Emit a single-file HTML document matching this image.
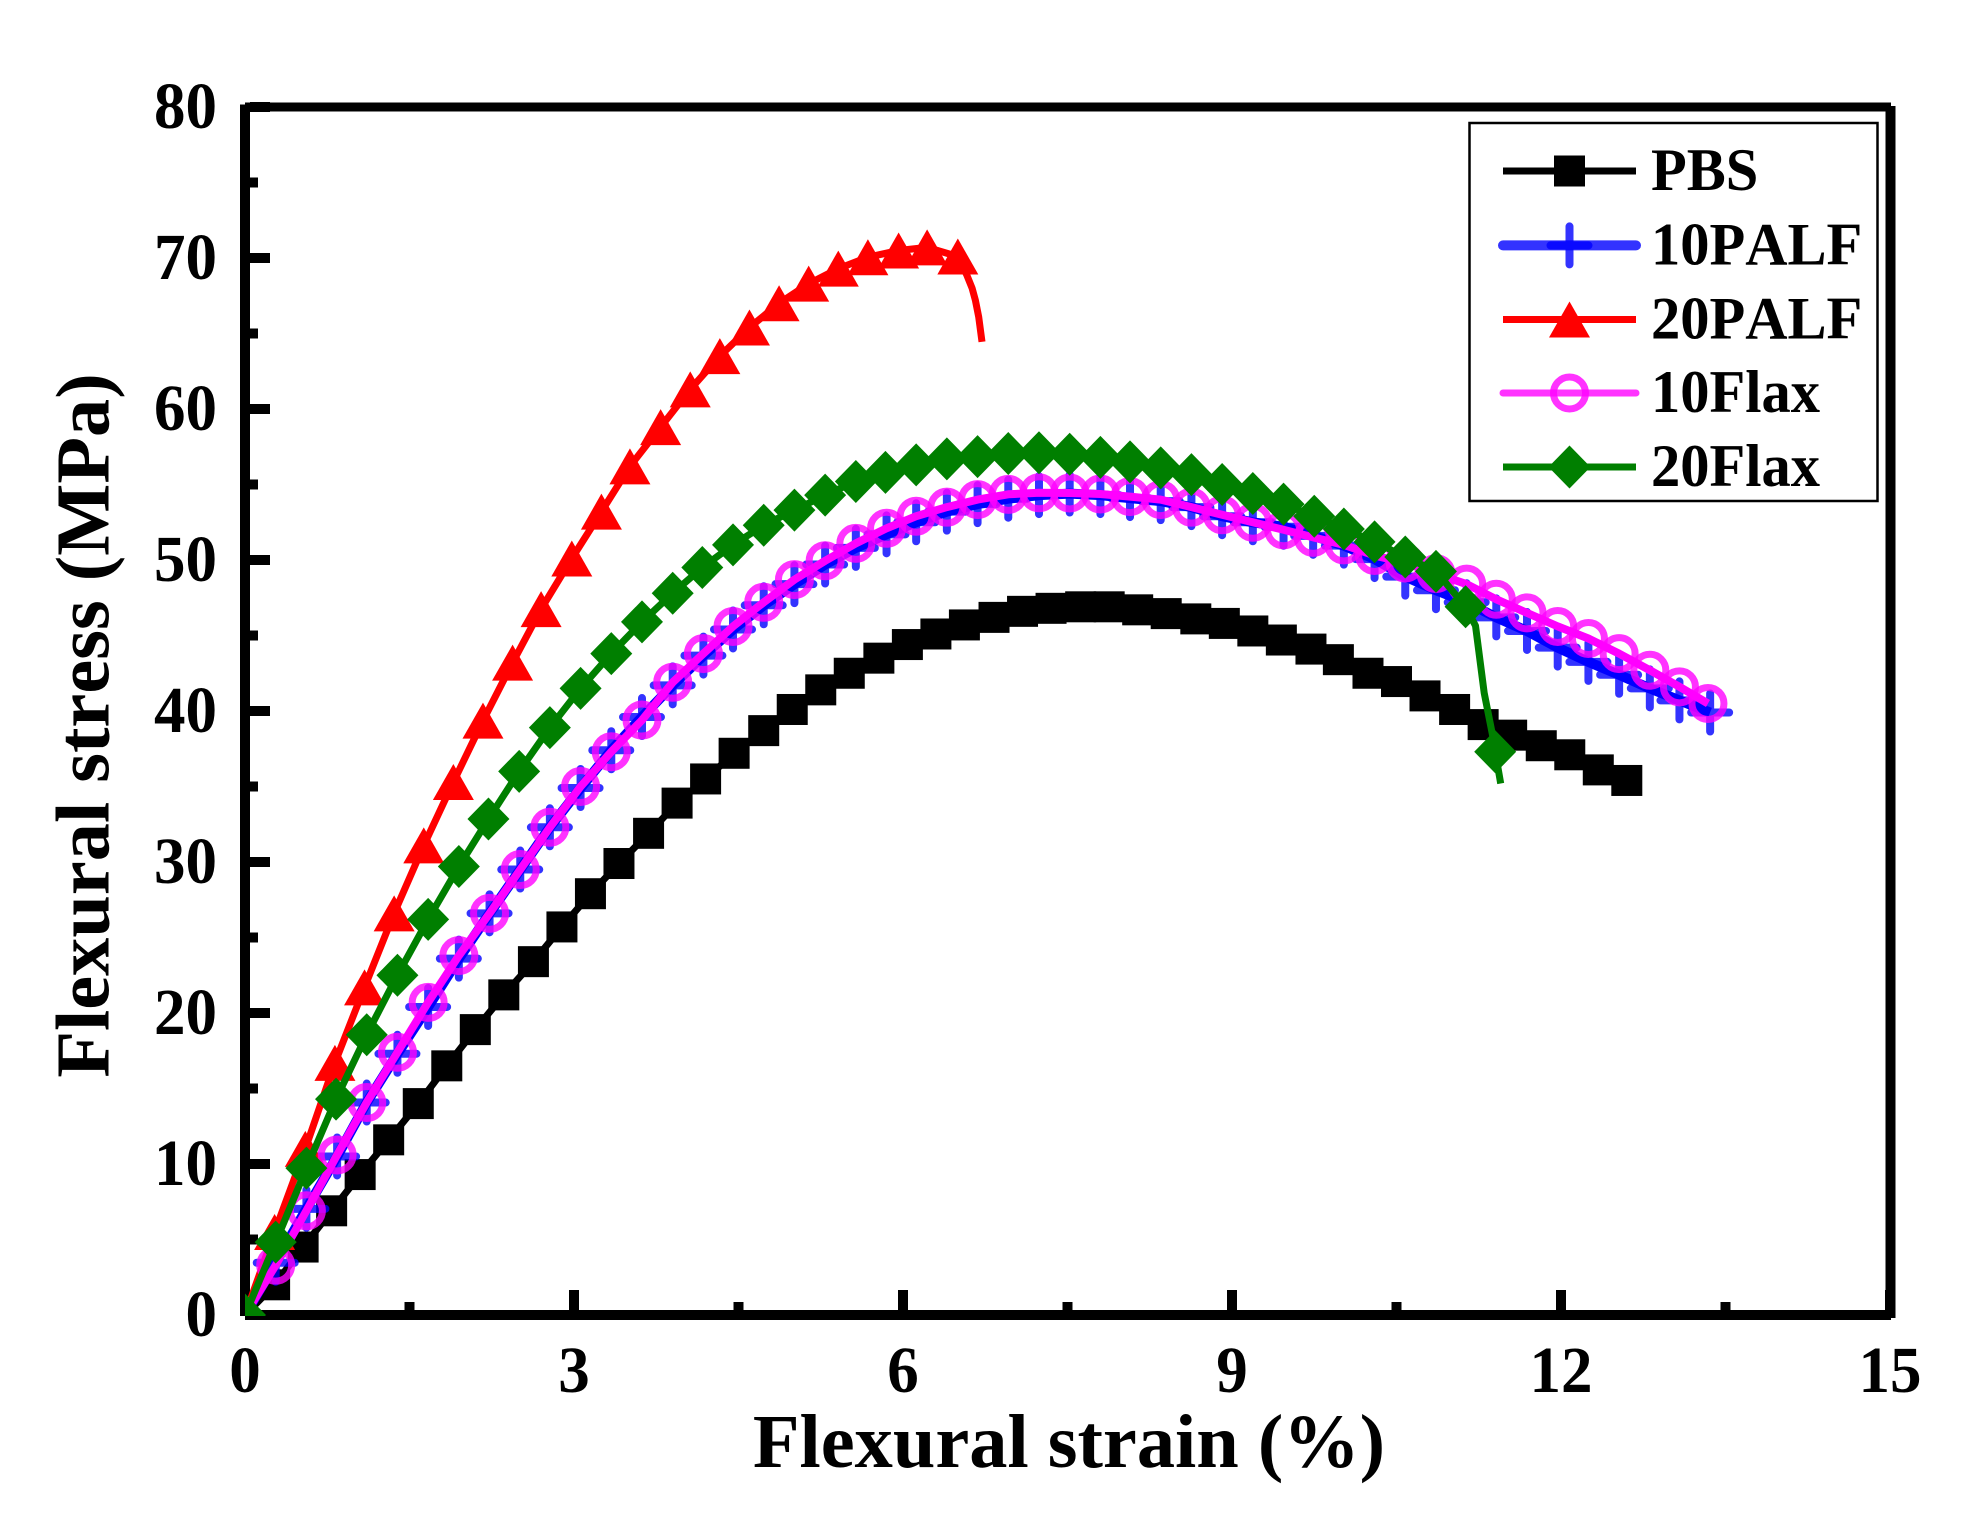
<!DOCTYPE html>
<html lang="en">
<head>
<meta charset="utf-8">
<title>Flexural stress vs strain</title>
<style>
html,body{margin:0;padding:0;background:#fff;width:1986px;height:1522px;overflow:hidden}
svg{display:block;font-family:"Liberation Serif",serif;font-weight:bold;fill:#000;font-kerning:none}
</style>
</head>
<body>
<svg id="chart" xmlns="http://www.w3.org/2000/svg" width="1986" height="1522" viewBox="0 0 1986 1522">
  <defs><clipPath id="plot-clip"><rect x="245" y="103" width="1650" height="1213"/></clipPath></defs>
  <g id="axes-layer" shape-rendering="crispEdges"></g>
  <g id="series-layer" clip-path="url(#plot-clip)"></g>
  <g id="tick-label-layer" font-size="63"></g>
  <text x="1069" y="1467" font-size="76.4" text-anchor="middle">Flexural strain (%)</text>
  <text transform="translate(108.5 725.5) rotate(-90)" font-size="76.4" text-anchor="middle">Flexural stress (MPa)</text>
  <g>
    <rect x="1469.5" y="123" width="408" height="378" fill="#fff" stroke="#000" stroke-width="2.5"/>
    <g id="legend-layer"></g>
  </g>
</svg>
<script>
// ---- axis tick data ----
const xMajorTicks = [0, 3, 6, 9, 12, 15];
const xMinorTicks = [1.5, 4.5, 7.5, 10.5, 13.5];
const yMajorTicks = [0, 10, 20, 30, 40, 50, 60, 70, 80];
const yMinorTicks = [5, 15, 25, 35, 45, 55, 65, 75];

// ---- PBS ----
const pbsStrain = [0,0.27,0.53,0.79,1.05,1.31,1.58,1.84,2.1,2.36,2.63,2.89,3.15,3.41,3.68,3.94,4.2,4.46,4.73,4.99,5.25,5.51,5.78,6.04,6.3,6.56,6.83,7.09,7.35,7.62,7.88,8.14,8.4,8.67,8.93,9.19,9.45,9.72,9.97,10.24,10.5,10.76,11.03,11.29,11.55,11.82,12.08,12.34,12.6];
const pbsStress = [0,2,4.5,6.9,9.3,11.6,14,16.5,18.9,21.2,23.4,25.7,27.9,29.9,31.9,33.9,35.5,37.2,38.7,40.1,41.4,42.5,43.5,44.4,45.1,45.7,46.2,46.6,46.8,46.9,46.9,46.7,46.45,46.1,45.8,45.3,44.7,44.1,43.4,42.5,41.95,41,40.1,39.1,38.4,37.7,37.1,36.1,35.4];
const pbsUnmarked = [0];

// ---- 10PALF ----
const palf10Strain = [0,0.28,0.56,0.84,1.11,1.39,1.67,1.95,2.23,2.51,2.78,3.06,3.34,3.62,3.9,4.18,4.45,4.73,5.01,5.29,5.57,5.85,6.12,6.4,6.68,6.96,7.24,7.52,7.8,8.07,8.35,8.63,8.91,9.19,9.47,9.74,10.02,10.3,10.58,10.86,11.14,11.41,11.69,11.97,12.25,12.53,12.81,13.08,13.36];
const palf10Stress = [0,3.46,7.03,10.5,14.07,17.3,20.4,23.6,26.6,29.5,32.3,34.9,37.4,39.6,41.7,43.67,45.4,47,48.4,49.7,50.8,51.7,52.5,53.2,53.7,54.06,54.3,54.4,54.3,54.1,53.9,53.5,52.9,52.5,52.2,51.6,50.95,50.06,48.9,48,47.2,46.2,45.3,44.2,43.25,42.4,41.5,40.7,39.9];
const palf10Unmarked = [0];

// ---- 20PALF (final points form the unmarked tail) ----
const palf20Strain = [0,0.27,0.55,0.82,1.09,1.36,1.63,1.9,2.17,2.44,2.7,2.98,3.25,3.51,3.79,4.06,4.33,4.6,4.87,5.14,5.41,5.68,5.96,6.22,6.5,6.58,6.63,6.66,6.69,6.72];
const palf20Stress = [0,5.5,11,16.7,21.7,26.6,31.1,35.3,39.36,43.2,46.75,50.1,53.2,56.2,58.8,61.3,63.5,65.4,67,68.3,69.3,70.05,70.5,70.7,70.1,68.9,68,67.2,66.1,64.45];
const palf20Unmarked = [25, 26, 27, 28, 29];

// ---- 10Flax ----
const flax10Strain = [0,0.28,0.56,0.84,1.11,1.39,1.67,1.95,2.23,2.51,2.78,3.06,3.34,3.62,3.9,4.18,4.45,4.73,5.01,5.29,5.57,5.85,6.12,6.4,6.68,6.96,7.24,7.52,7.8,8.07,8.35,8.63,8.91,9.19,9.47,9.74,10.02,10.3,10.58,10.86,11.14,11.41,11.69,11.97,12.25,12.53,12.81,13.08,13.34];
const flax10Stress = [0,3.3,6.9,10.6,14.07,17.4,20.7,23.8,26.6,29.5,32.3,35,37.3,39.4,41.9,43.8,45.6,47.2,48.7,49.95,51.1,52.1,52.9,53.5,54,54.35,54.45,54.44,54.37,54.2,54,53.5,53,52.5,52,51.5,51,50.3,49.8,49.1,48.4,47.4,46.5,45.6,44.8,43.8,42.7,41.6,40.5];
const flax10Unmarked = [0];

// ---- 20Flax (unmarked points shape the final drop and tail) ----
const flax20Strain = [0,0.28,0.56,0.83,1.11,1.39,1.67,1.95,2.22,2.5,2.78,3.06,3.34,3.62,3.9,4.17,4.45,4.73,5.01,5.29,5.57,5.84,6.12,6.4,6.68,6.96,7.24,7.52,7.8,8.07,8.35,8.63,8.91,9.19,9.47,9.75,10.02,10.3,10.58,10.86,11.13,11.22,11.3,11.38,11.4,11.45];
const flax20Stress = [0,4.83,9.73,14.3,18.56,22.5,26.2,29.7,32.85,36,38.9,41.5,43.8,45.9,47.8,49.5,51,52.3,53.3,54.3,55.2,55.8,56.3,56.7,56.85,57.05,57.1,57,56.8,56.5,56.1,55.65,55,54.4,53.7,52.9,52.05,51.2,50.2,49.25,46.9,45.65,41.2,38.25,37.3,35.2];
const flax20Unmarked = [41, 42, 43, 45];

// ---- legend ----
const legendNames = ['PBS', '10PALF', '20PALF', '10Flax', '20Flax'];

const SVGNS = 'http://www.w3.org/2000/svg';
const xScale = v => 245 + v * (1645 / 15);
const yScale = v => 1315 - v * 15.1;

function mk(tag, attrs, parent) {
  const el = document.createElementNS(SVGNS, tag);
  for (const k in attrs) el.setAttribute(k, attrs[k]);
  parent.appendChild(el);
  return el;
}

function drawSquare(parent, cx, cy, color) {
  const el = mk('rect', {x: cx - 15.5, y: cy - 15.5, width: 31, height: 31, fill: color}, parent);
  
  
}
function drawPlus(parent, cx, cy, color) {
  const el = mk('path', {d: `M${cx} ${cy - 19}V${cy + 19}M${cx - 19} ${cy}H${cx + 19}`, fill: 'none', stroke: color, 'stroke-width': 8, 'stroke-linecap': 'round', 'stroke-opacity': 0.8}, parent);
  
  
}
function drawTriangle(parent, cx, cy, color) {
  const el = mk('polygon', {points: `${cx},${cy - 18} ${cx + 20.5},${cy + 18} ${cx - 20.5},${cy + 18}`, fill: color}, parent);
  
  
}
function drawRing(parent, cx, cy, color) {
  const el = mk('circle', {cx: cx, cy: cy, r: 16, fill: 'none', stroke: color, 'stroke-width': 7, 'stroke-opacity': 0.8}, parent);
  
  
}
function drawDiamond(parent, cx, cy, color) {
  const el = mk('polygon', {points: `${cx},${cy - 21.5} ${cx + 21},${cy} ${cx},${cy + 21.5} ${cx - 21},${cy}`, fill: color}, parent);
  
  
}

function drawSeries(name, xs, ys, color, width, marker, markerColor, skip) {
  const layer = document.getElementById('series-layer');
  const g = mk('g', {}, layer);
  
  
  const pts = xs.map((x, i) => xScale(x).toFixed(1) + ',' + yScale(ys[i]).toFixed(1)).join(' ');
  const line = mk('polyline', {points: pts, fill: 'none', stroke: color, 'stroke-width': width, 'stroke-linejoin': 'round'}, g);
  
  
  xs.forEach((x, i) => {
    if (skip && skip.includes(i)) return;
    marker(g, xScale(x), yScale(ys[i]), markerColor);
  });
}

drawSeries('pbs', pbsStrain, pbsStress, '#000', 7, drawSquare, '#000', pbsUnmarked);
drawSeries('10palf', palf10Strain, palf10Stress, '#0000ff', 10, drawPlus, '#0000ff', palf10Unmarked);
drawSeries('20palf', palf20Strain, palf20Stress, '#ff0000', 7, drawTriangle, '#ff0000', palf20Unmarked);
drawSeries('10flax', flax10Strain, flax10Stress, '#ff00ff', 8, drawRing, '#ff00ff', flax10Unmarked);
drawSeries('20flax', flax20Strain, flax20Stress, '#007f00', 7, drawDiamond, '#007f00', flax20Unmarked);

// axes
const axes = document.getElementById('axes-layer');
const spines = [
  ['spine-left', 240, 104.5, 10, 1211.5],
  ['spine-top', 245, 102.5, 1646, 9],
  ['spine-right', 1885.5, 106, 10, 1212],
  ['spine-bottom', 245, 1310, 1646, 10]
];
spines.forEach(s => {
  const el = mk('rect', {x: s[1], y: s[2], width: s[3], height: s[4], fill: '#000'}, axes);
  
  
});
yMajorTicks.concat(yMinorTicks).forEach(v => {
  const major = yMajorTicks.includes(v);
  const el = mk('rect', {x: 250, y: yScale(v) - 5, width: major ? 20 : 8, height: 10, fill: '#000'}, axes);
  
  
});
xMajorTicks.concat(xMinorTicks).forEach(v => {
  const major = xMajorTicks.includes(v);
  const h = major ? 20 : 8;
  const el = mk('rect', {x: xScale(v) - 5, y: 1310 - h, width: 10, height: h, fill: '#000'}, axes);
  
  
});

// tick labels
const labels = document.getElementById('tick-label-layer');
yMajorTicks.forEach(v => {
  const t = mk('text', {transform: `translate(217 ${yScale(v) + 21}) scale(1 1.05)`, 'text-anchor': 'end'}, labels);
  t.textContent = String(v);
  
  
});
xMajorTicks.forEach(v => {
  const t = mk('text', {transform: `translate(${xScale(v)} 1392) scale(1 1.05)`, 'text-anchor': 'middle'}, labels);
  t.textContent = String(v);
  
  
});

// legend
const legendLayer = document.getElementById('legend-layer');
const legendRows = [171, 245.4, 319.5, 393, 467];
const legendColors = ['#000', '#0000ff', '#ff0000', '#ff00ff', '#007f00'];
const legendWidths = [7, 10, 7, 7, 7];
const legendOpacity = [1, 0.8, 1, 0.8, 1];
const legendCaps = ['butt', 'round', 'butt', 'round', 'butt'];
const legendMarkers = [drawSquare, drawPlus, drawTriangle, drawRing, drawDiamond];
legendNames.forEach((name, i) => {
  const g = mk('g', {}, legendLayer);
  
  
  const line = mk('line', {x1: 1503, x2: 1636, y1: legendRows[i], y2: legendRows[i], stroke: legendColors[i], 'stroke-width': legendWidths[i], 'stroke-opacity': legendOpacity[i], 'stroke-linecap': legendCaps[i]}, g);
  
  
  legendMarkers[i](g, 1569.5, legendRows[i], legendColors[i]);
  const t = mk('text', {transform: `translate(1651 ${legendRows[i] + 19}) scale(1 1.03)`, 'font-size': 58.5}, g);
  t.textContent = name;
  
  
});
</script>
</body>
</html>
